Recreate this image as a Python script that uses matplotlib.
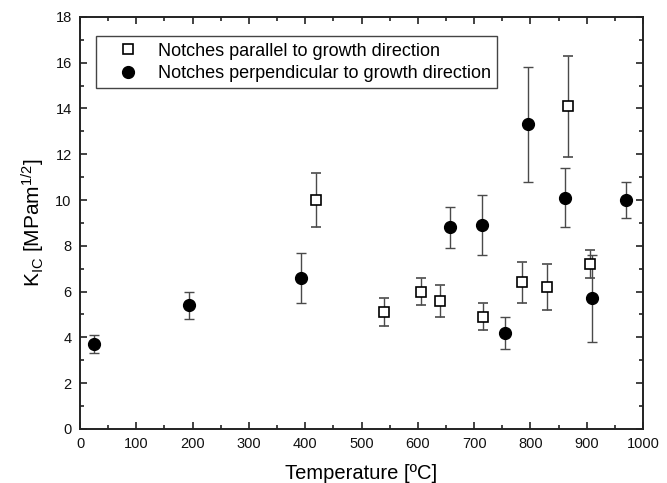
import matplotlib
matplotlib.use("Agg")
import matplotlib.pyplot as plt
from matplotlib.ticker import MultipleLocator

plt.rcParams['font.family'] = ['Liberation Sans', 'DejaVu Sans']
plt.rcParams['mathtext.default'] = 'regular'

# Notches parallel to growth direction (open squares)
par_T = [420, 540, 605, 640, 715, 785, 830, 866, 906]
par_K = [10.0, 5.1, 6.0, 5.6, 4.9, 6.4, 6.2, 14.1, 7.2]
par_err = [1.2, 0.6, 0.6, 0.7, 0.6, 0.9, 1.0, 2.2, 0.6]

# Notches perpendicular to growth direction (filled circles)
perp_T = [24, 193, 393, 658, 714, 754, 796, 861, 909, 969]
perp_K = [3.7, 5.4, 6.6, 8.8, 8.9, 4.2, 13.3, 10.1, 5.7, 10.0]
perp_err = [0.4, 0.6, 1.1, 0.9, 1.3, 0.7, 2.5, 1.3, 1.9, 0.8]

fig = plt.figure(figsize=(6.67, 4.83), dpi=100)
ax = fig.add_axes([0.12, 0.112, 0.844, 0.853])

ecol = '#4a4a4a'
ax.errorbar(par_T, par_K, yerr=par_err, fmt='s', ms=7, mfc='white', mec='black',
            mew=1.2, ecolor=ecol, elinewidth=1.0, capsize=3.5, capthick=1.0,
            label='Notches parallel to growth direction', zorder=3)
ax.errorbar(perp_T, perp_K, yerr=perp_err, fmt='o', ms=8.5, mfc='black', mec='black',
            ecolor=ecol, elinewidth=1.0, capsize=3.5, capthick=1.0,
            label='Notches perpendicular to growth direction', zorder=3)

ax.set_xlim(0, 1000)
ax.set_ylim(0, 18)
ax.xaxis.set_major_locator(MultipleLocator(100))
ax.xaxis.set_minor_locator(MultipleLocator(50))
ax.yaxis.set_major_locator(MultipleLocator(2))
ax.yaxis.set_minor_locator(MultipleLocator(1))
ax.tick_params(which='both', direction='in', top=True, right=True, width=1.2, color='#222222')
ax.tick_params(which='major', length=5, labelsize=10.5, pad=6, labelcolor='#111111')
ax.tick_params(which='minor', length=3)
for s in ax.spines.values():
    s.set_linewidth(1.4)
    s.set_color('#222222')

ax.set_xlabel('Temperature [ºC]', fontsize=14.5, labelpad=9)
ax.set_ylabel('K$_{IC}$ [MPam$^{1/2}$]', fontsize=15, labelpad=6)

handles, labels = ax.get_legend_handles_labels()
handles = [h[0] for h in handles]
leg = ax.legend(handles, labels, loc='upper left', bbox_to_anchor=(0.029, 0.953),
                fontsize=13, frameon=True, fancybox=False, framealpha=1,
                edgecolor='#444444', borderpad=0.36, handletextpad=0.25,
                labelspacing=0.28, handlelength=2.8, borderaxespad=0)
leg.get_frame().set_linewidth(1.0)

fig.savefig('out.png', dpi=100)
